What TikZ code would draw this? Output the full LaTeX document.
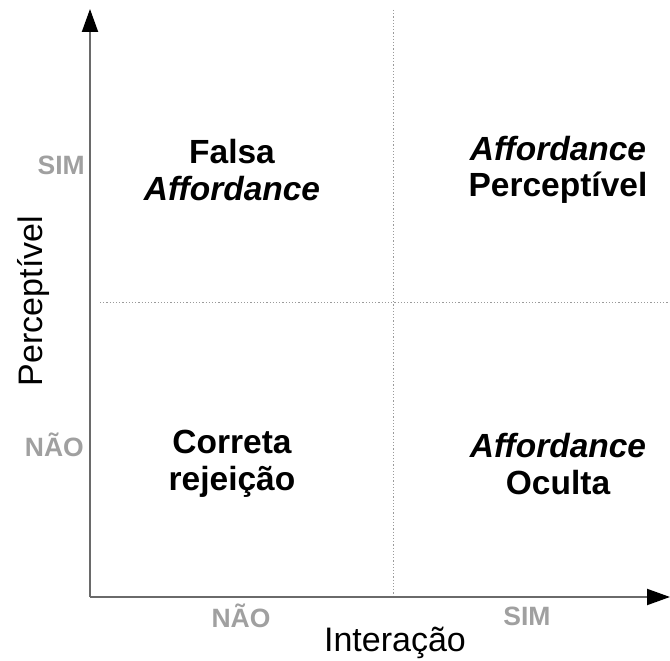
\documentclass[tikz,border=0pt]{standalone}
\usepackage{fontspec}
\setmainfont{Liberation Sans}
\usepackage{tikz}
\usetikzlibrary{
  arrows.meta,
  positioning
}
\definecolor{axisgray}{HTML}{6A6A6A}
\definecolor{labelgray}{HTML}{A0A0A0}
\definecolor{gridgray}{HTML}{9A9A9A}

\begin{document}
\begin{tikzpicture}[
      x=1pt,y=1pt,
      quadrant/.style={
         align=center,
         font=\fontsize{33.5}{36.5}\selectfont\bfseries,
         inner sep=0pt
      },
      level/.style={
         text=labelgray,
         font=\fontsize{26.5}{28}\selectfont\bfseries,
         inner sep=0pt
      },
      axislabel/.style={
         font=\fontsize{34}{36}\selectfont,
         inner sep=0pt
      },
      axis/.style={
         draw=axisgray,line width=2pt,
         -{Triangle[color=black,length=23pt,width=16pt]}
      },
      grid line/.style={
         draw=gridgray,line width=0.9pt,dash pattern=on 1.2pt off 2pt
      }
    ]
    \useasboundingbox (0,0) rectangle (670,661);
    % axes
    \coordinate (origin) at (90,64);
    \coordinate (ytip) at (90,652);
    \coordinate (xtip) at (670,64);
    % quadrant borders
    \coordinate (vtop) at (393,651);
    \coordinate (vbottom) at (393,64);
    \coordinate (hleft) at (100,359);
    \coordinate (hright) at (670,359);
    \draw[grid line] (vtop) -- (vbottom);
    \draw[grid line] (hleft) -- (hright);
    \draw[axis] (origin) -- (ytip);
    \draw[axis] (origin) -- (xtip);
    % quadrants
    \node (falsa) [quadrant] at (232,491) {Falsa\\\itshape Affordance};
    \node (perceptivel) [quadrant] at (558,491) {\itshape Affordance\\Perceptível};
    \node (correta) [quadrant] at (232,197) {Correta\\rejeição};
    \node (oculta) [quadrant] at (558,197) {\itshape Affordance\\Oculta};
    % levels
    \node (ysim) [level,anchor=east] at (85,496) {SIM};
    \node (ynao) [level,anchor=east] at (84,216) {NÃO};
    \node (xnao) [level] at (241,45) {NÃO};
    \node (xsim) [level] at (527,45) {SIM};
    % axis labels
    \node (xlabel) [axislabel,anchor=base] at (395,9) {Interação};
    \node (ylabel) [axislabel,anchor=base,rotate=90] at (42,360) {Perceptível};
\end{tikzpicture}
\end{document}
